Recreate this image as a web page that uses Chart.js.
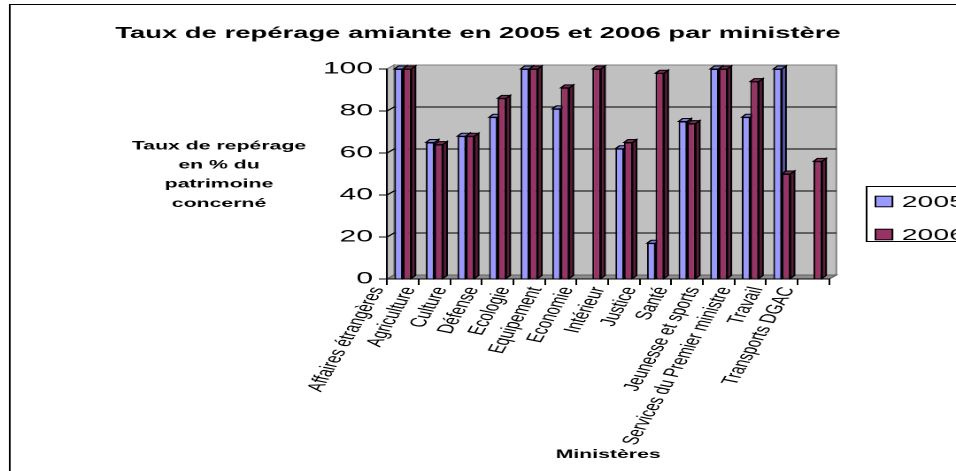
<!DOCTYPE html>
<html lang="fr">
<head>
<meta charset="utf-8">
<title>Taux de repérage amiante</title>
<script src="https://cdn.jsdelivr.net/npm/chart.js@4.4.1/dist/chart.umd.min.js"></script>
<style>
  html, body { margin: 0; padding: 0; background: #fff; }
  /* the chart is laid out narrow, then stretched to the page width */
  #chart { display: block; width: 956px !important; height: 471px !important; }
</style>
</head>
<body>
<canvas id="chart" width="540" height="471" style="width:956px;height:471px"></canvas>
<script>
const ministeres = [
  'Affaires étrangères', 'Agriculture', 'Culture', 'Défense', 'Ecologie',
  'Equipement', 'Economie', 'Intérieur', 'Justice', 'Santé',
  'Jeunesse et sports', 'Services du Premier ministre', 'Travail', 'Transports DGAC'
];
const annees = ['2005', '2006'];
const taux2005 = [100, 65, 68, 77, 100, 81, null, 62, 17, 75, 100, 77, 100, null];
const taux2006 = [100, 64, 68, 86, 100, 91, 100, 65, 98, 74, 100, 94, 50, 56];
const graduations = [0, 20, 40, 60, 80, 100];

const titre = 'Taux de repérage amiante en 2005 et 2006 par ministère';
const titreY = ['Taux de repérage', 'en % du', 'patrimoine', 'concerné'];
const titreX = 'Ministères';

const FONT = '"Liberation Sans", Arial, sans-serif';
const couleurs = [
  { front: '#9999ff', side: '#5c5cb8', top: '#7b7bd6' },
  { front: '#993366', side: '#5a1d3b', top: '#7a2a52' }
];
const WALL = { dx: 4, dy: -4 };    // depth of the back wall
const DEPTH = { dx: 2.3, dy: -3 }; // depth of each bar

function poly(ctx, pts, fill, stroke) {
  ctx.beginPath();
  ctx.moveTo(pts[0][0], pts[0][1]);
  for (let i = 1; i < pts.length; i++) ctx.lineTo(pts[i][0], pts[i][1]);
  ctx.closePath();
  if (fill) { ctx.fillStyle = fill; ctx.fill(); }
  if (stroke) { ctx.strokeStyle = stroke; ctx.lineWidth = 1; ctx.stroke(); }
}

const decor = {
  id: 'decor',
  beforeDraw(chart) {
    const { ctx, chartArea: a, scales: { y } } = chart;
    const l = a.left, r = a.right;
    const t = y.getPixelForValue(graduations[graduations.length - 1]);
    const b = y.getPixelForValue(0);
    const { dx, dy } = WALL;
    ctx.save();
    // outer frame
    ctx.strokeStyle = '#000';
    ctx.lineWidth = 1;
    ctx.strokeRect(5.5, 4.5, chart.width + 20, chart.height + 20);
    // back wall, side wall, floor
    poly(ctx, [[l + dx, t + dy], [r + dx, t + dy], [r + dx, b + dy], [l + dx, b + dy]], '#c0c0c0', '#808080');
    poly(ctx, [[l, t], [l + dx, t + dy], [l + dx, b + dy], [l, b]], '#c0c0c0', '#808080');
    poly(ctx, [[l, b], [l + dx, b + dy], [r + dx, b + dy], [r, b]], '#8c8c8c', '#606060');
    // grid lines across the side wall and back wall
    ctx.strokeStyle = '#000';
    ctx.lineWidth = 1;
    graduations.forEach(v => {
      if (v === 0 || v === graduations[graduations.length - 1]) return;
      const py = y.getPixelForValue(v);
      ctx.beginPath();
      ctx.moveTo(l, py);
      ctx.lineTo(l + dx, py + dy);
      ctx.lineTo(r + dx, py + dy);
      ctx.stroke();
    });
    ctx.restore();
  },
  beforeDatasetsDraw(chart) {
    // side and top faces of the bars, the front faces are drawn by Chart.js
    const { ctx } = chart;
    const { dx, dy } = DEPTH;
    ctx.save();
    ministeres.forEach((_, i) => {
      chart.data.datasets.forEach((ds, di) => {
        if (ds.data[i] == null) return;
        const bar = chart.getDatasetMeta(di).data[i];
        const { x, y, base, width } = bar.getProps(['x', 'y', 'base', 'width'], true);
        const xl = x - width / 2, xr = x + width / 2;
        poly(ctx, [[xr, y], [xr + dx, y + dy], [xr + dx, base + dy], [xr, base]], couleurs[di].side, '#000');
        poly(ctx, [[xl, y], [xl + dx, y + dy], [xr + dx, y + dy], [xr, y]], couleurs[di].top, '#000');
      });
    });
    ctx.restore();
  },
  afterDraw(chart) {
    const { ctx, chartArea: a } = chart;
    ctx.save();
    ctx.fillStyle = '#000';
    ctx.textAlign = 'center';
    ctx.textBaseline = 'alphabetic';

    ctx.font = 'bold 15.5px ' + FONT;
    ctx.fillText(titre, chart.width / 2, 38);

    ctx.font = 'bold 12px ' + FONT;
    [149.3, 168.5, 187.7, 206.9].forEach((by, i) => ctx.fillText(titreY[i], 123.7, by));
    ctx.fillText(titreX, (a.left + a.right) / 2, 458);

    // legend box, running off the right edge
    ctx.strokeStyle = '#000';
    ctx.lineWidth = 1;
    ctx.strokeRect(489.5, 186.5, 100, 55);
    ctx.font = '16px ' + FONT;
    ctx.textAlign = 'left';
    ctx.textBaseline = 'middle';
    chart.data.datasets.forEach((ds, di) => {
      const cy = 201.5 + di * 33;
      ctx.fillStyle = ds.backgroundColor;
      ctx.fillRect(494.5, cy - 5.3, 9.6, 10.6);
      ctx.strokeRect(494.5, cy - 5.3, 9.6, 10.6);
      ctx.fillStyle = '#000';
      ctx.fillText(ds.label, 509.4, cy + 1);
    });
    ctx.restore();
  }
};

new Chart(document.getElementById('chart'), {
  type: 'bar',
  data: {
    labels: ministeres,
    datasets: [
      { label: annees[0], data: taux2005, backgroundColor: couleurs[0].front, borderColor: '#000', borderWidth: 1 },
      { label: annees[1], data: taux2006, backgroundColor: couleurs[1].front, borderColor: '#000', borderWidth: 1 }
    ]
  },
  options: {
    responsive: false,
    devicePixelRatio: 2,
    animation: false,
    categoryPercentage: 0.54,
    barPercentage: 1,
    layout: { padding: { left: 0, right: 71.6, top: 69, bottom: 0 } },
    plugins: {
      legend: { display: false },
      title: { display: false },
      tooltip: { enabled: false }
    },
    scales: {
      x: {
        offset: true,
        grid: { drawOnChartArea: false, drawTicks: true, tickLength: 6, color: '#000', offset: true },
        border: { display: true, color: '#000' },
        ticks: {
          autoSkip: false,
          minRotation: 71,
          maxRotation: 71,
          labelOffset: -14,
          padding: 0,
          color: '#000',
          font: { family: FONT, size: 13 }
        },
        afterFit(scale) { scale.height = 192; }
      },
      y: {
        min: graduations[0],
        max: graduations[graduations.length - 1],
        grid: { drawOnChartArea: false, drawTicks: true, tickLength: 4.6, color: '#000' },
        border: { display: true, color: '#000' },
        ticks: {
          stepSize: graduations[1] - graduations[0],
          padding: 3.3,
          color: '#000',
          font: { family: FONT, size: 17 }
        },
        afterFit(scale) { scale.width = 218.6; }
      }
    }
  },
  plugins: [decor]
});
</script>
</body>
</html>
